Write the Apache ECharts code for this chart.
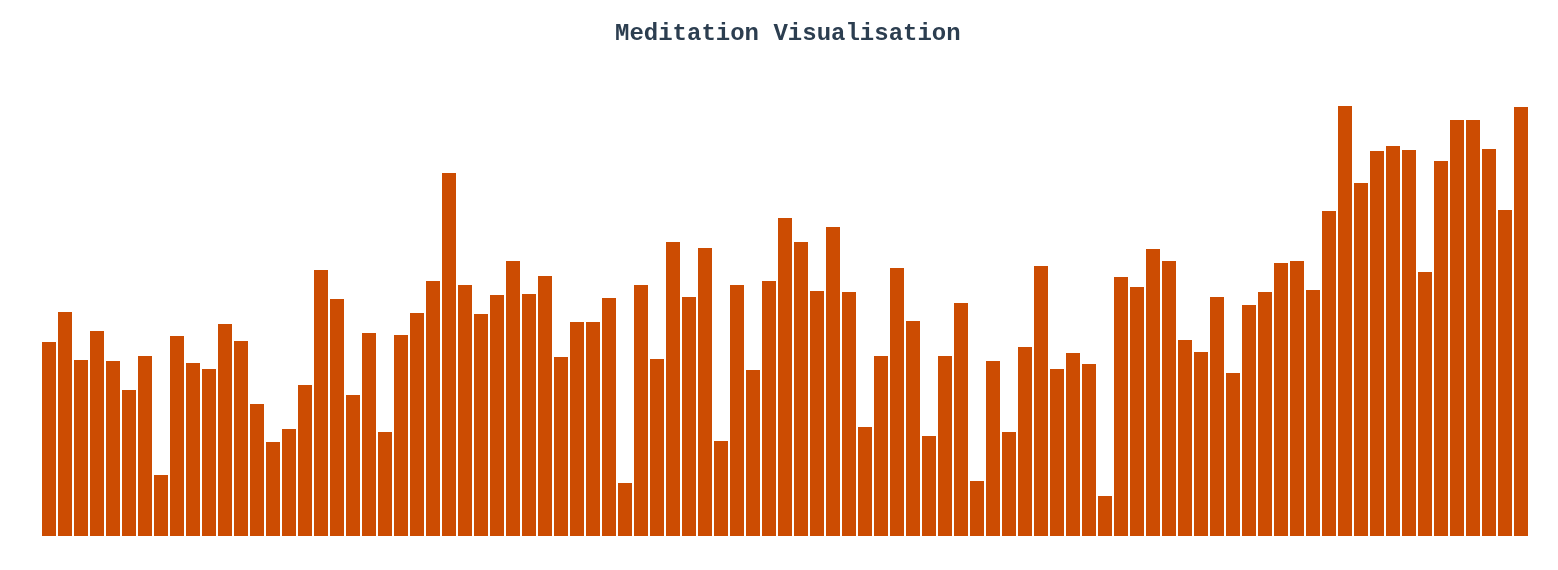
<!DOCTYPE html>
<html>
<head>
    <meta charset="utf-8">
    <title>Meditation Visualisation</title>
    <script src="https://cdn.jsdelivr.net/npm/echarts@6/dist/echarts.min.js"></script>
    <style>
        html, body { margin: 0; padding: 0; background: #fff; }
        #main { width: 1558px; height: 570px; }
    </style>
</head>
<body>
<div id="main"></div>
<script>
    // one value per session, in order
    var sessions = [];
    var minutes = [
        19.4, 22.4, 17.6, 20.5, 17.5, 14.6, 18.0, 6.1, 20.0, 17.3,
        16.7, 21.2, 19.5, 13.2, 9.4, 10.7, 15.1, 26.6, 23.7, 14.1,
        20.3, 10.4, 20.1, 22.3, 25.5, 36.3, 25.1, 22.2, 24.1, 27.5,
        24.2, 26.0, 17.9, 21.4, 21.4, 23.8, 5.3, 25.1, 17.7, 29.4,
        23.9, 28.8, 9.5, 25.1, 16.6, 25.5, 31.8, 29.4, 24.5, 30.9,
        24.4, 10.9, 18.0, 26.8, 21.5, 10.0, 18.0, 23.3, 5.5, 17.5,
        10.4, 18.9, 27.0, 16.7, 18.3, 17.2, 4.0, 25.9, 24.9, 28.7,
        27.5, 19.6, 18.4, 23.9, 16.3, 23.1, 24.4, 27.3, 27.5, 24.6,
        32.5, 43.0, 35.3, 38.5, 39.0, 38.6, 26.4, 37.5, 41.6, 41.6,
        38.7, 32.6, 42.9
    ];
    for (var i = 0; i < minutes.length; i++) {
        sessions.push('Session ' + (i + 1));
    }

    var myChart = echarts.init(document.getElementById('main'));
    var option = {
        animation: false,
        title: {
            text: 'Meditation Visualisation',
            left: 615,
            top: 22,
            padding: 0,
            textStyle: {
                fontFamily: '"Courier New", "Liberation Mono", monospace',
                fontWeight: 'bold',
                fontSize: 24,
                color: '#2c3e50'
            }
        },
        grid: {
            left: 41,
            right: 29,
            top: 106,
            bottom: 34
        },
        xAxis: {
            type: 'category',
            data: sessions,
            show: false
        },
        yAxis: {
            type: 'value',
            min: 0,
            max: 43,
            show: false
        },
        series: [{
            type: 'bar',
            data: minutes,
            barCategoryGap: '12.5%',
            itemStyle: { color: '#cc4c02' }
        }]
    };
    myChart.setOption(option);
</script>
</body>
</html>
